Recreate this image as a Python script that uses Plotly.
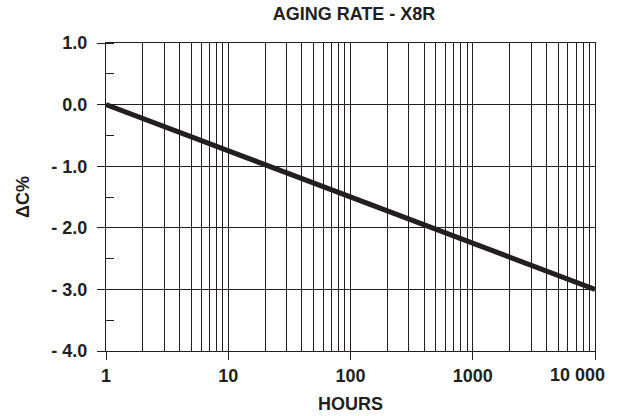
import math
import plotly.graph_objects as go

hours = [1, 10000]
delta_c = [0.0, -3.0]
y_tickvals = [1, 0, -1, -2, -3, -4]
y_ticktext = ["1.0", "0.0", "- 1.0", "- 2.0", "- 3.0", "- 4.0"]
x_tickvals = [1, 10, 100, 1000, 10000]
x_ticktext = ["1", "10", "100", "1000", "10 000"]
x_minor = [m * 10 ** d for d in range(4) for m in range(2, 10)]

INK = "#231f20"
FONT = "Liberation Sans, Arial, Helvetica, sans-serif"
FS = 18

fig = go.Figure()
fig.add_trace(go.Scatter(x=hours, y=delta_c, mode="lines",
                         line=dict(color=INK, width=5), showlegend=False))

# last tick label drawn shifted left (as in the reference) so it stays inside the page
shown_ticktext = ["<b>%s</b>" % t for t in x_ticktext[:-1]] + [""]
fig.add_annotation(x=math.log10(x_tickvals[-1]), y=0, xref="x", yref="paper",
                   text="<b>%s</b>" % x_ticktext[-1], showarrow=False,
                   xanchor="right", yanchor="middle", xshift=12, yshift=-24,
                   font=dict(family=FONT, size=FS, color=INK))

fig.update_layout(
    width=621, height=416,
    margin=dict(l=106, r=26, t=43, b=65, autoexpand=False),
    paper_bgcolor="white", plot_bgcolor="white",
    title=dict(text="<b>AGING RATE - X8R</b>", x=354 / 621, xanchor="center",
               y=1 - 14 / 416, yanchor="middle",
               font=dict(family=FONT, size=FS, color=INK)),
    font=dict(family=FONT, color=INK),
)
fig.update_xaxes(
    type="log", range=[0, 4], automargin=False,
    tickvals=x_tickvals, ticktext=shown_ticktext,
    tickfont=dict(size=FS, color=INK),
    ticks="outside", ticklen=8, tickwidth=1, tickcolor=INK,
    showgrid=True, gridcolor=INK, gridwidth=1,
    minor=dict(tickvals=x_minor, showgrid=True, gridcolor=INK, gridwidth=1, ticks=""),
    showline=True, linecolor=INK, linewidth=1, mirror=True,
    zeroline=False,
    title=dict(text="<b>HOURS</b>", font=dict(size=FS, color=INK), standoff=12),
)
fig.update_yaxes(
    range=[-4, 1], automargin=False,
    tickvals=y_tickvals, ticktext=["<b>%s</b>" % t for t in y_ticktext],
    tickfont=dict(size=FS, color=INK),
    ticks="outside", ticklen=8, tickwidth=1, tickcolor=INK, ticklabelstandoff=6,
    showgrid=True, gridcolor=INK, gridwidth=1,
    minor=dict(dtick=0.5, ticks="inside", ticklen=8, tickwidth=1, tickcolor=INK, showgrid=False),
    showline=True, linecolor=INK, linewidth=1, mirror=True,
    zeroline=False,
    title=dict(text="<b>ΔC%</b>", font=dict(size=FS, color=INK), standoff=17),
)

fig.write_html("out.html", config={"displayModeBar": False},
               post_script="document.body.style.margin='0';")
